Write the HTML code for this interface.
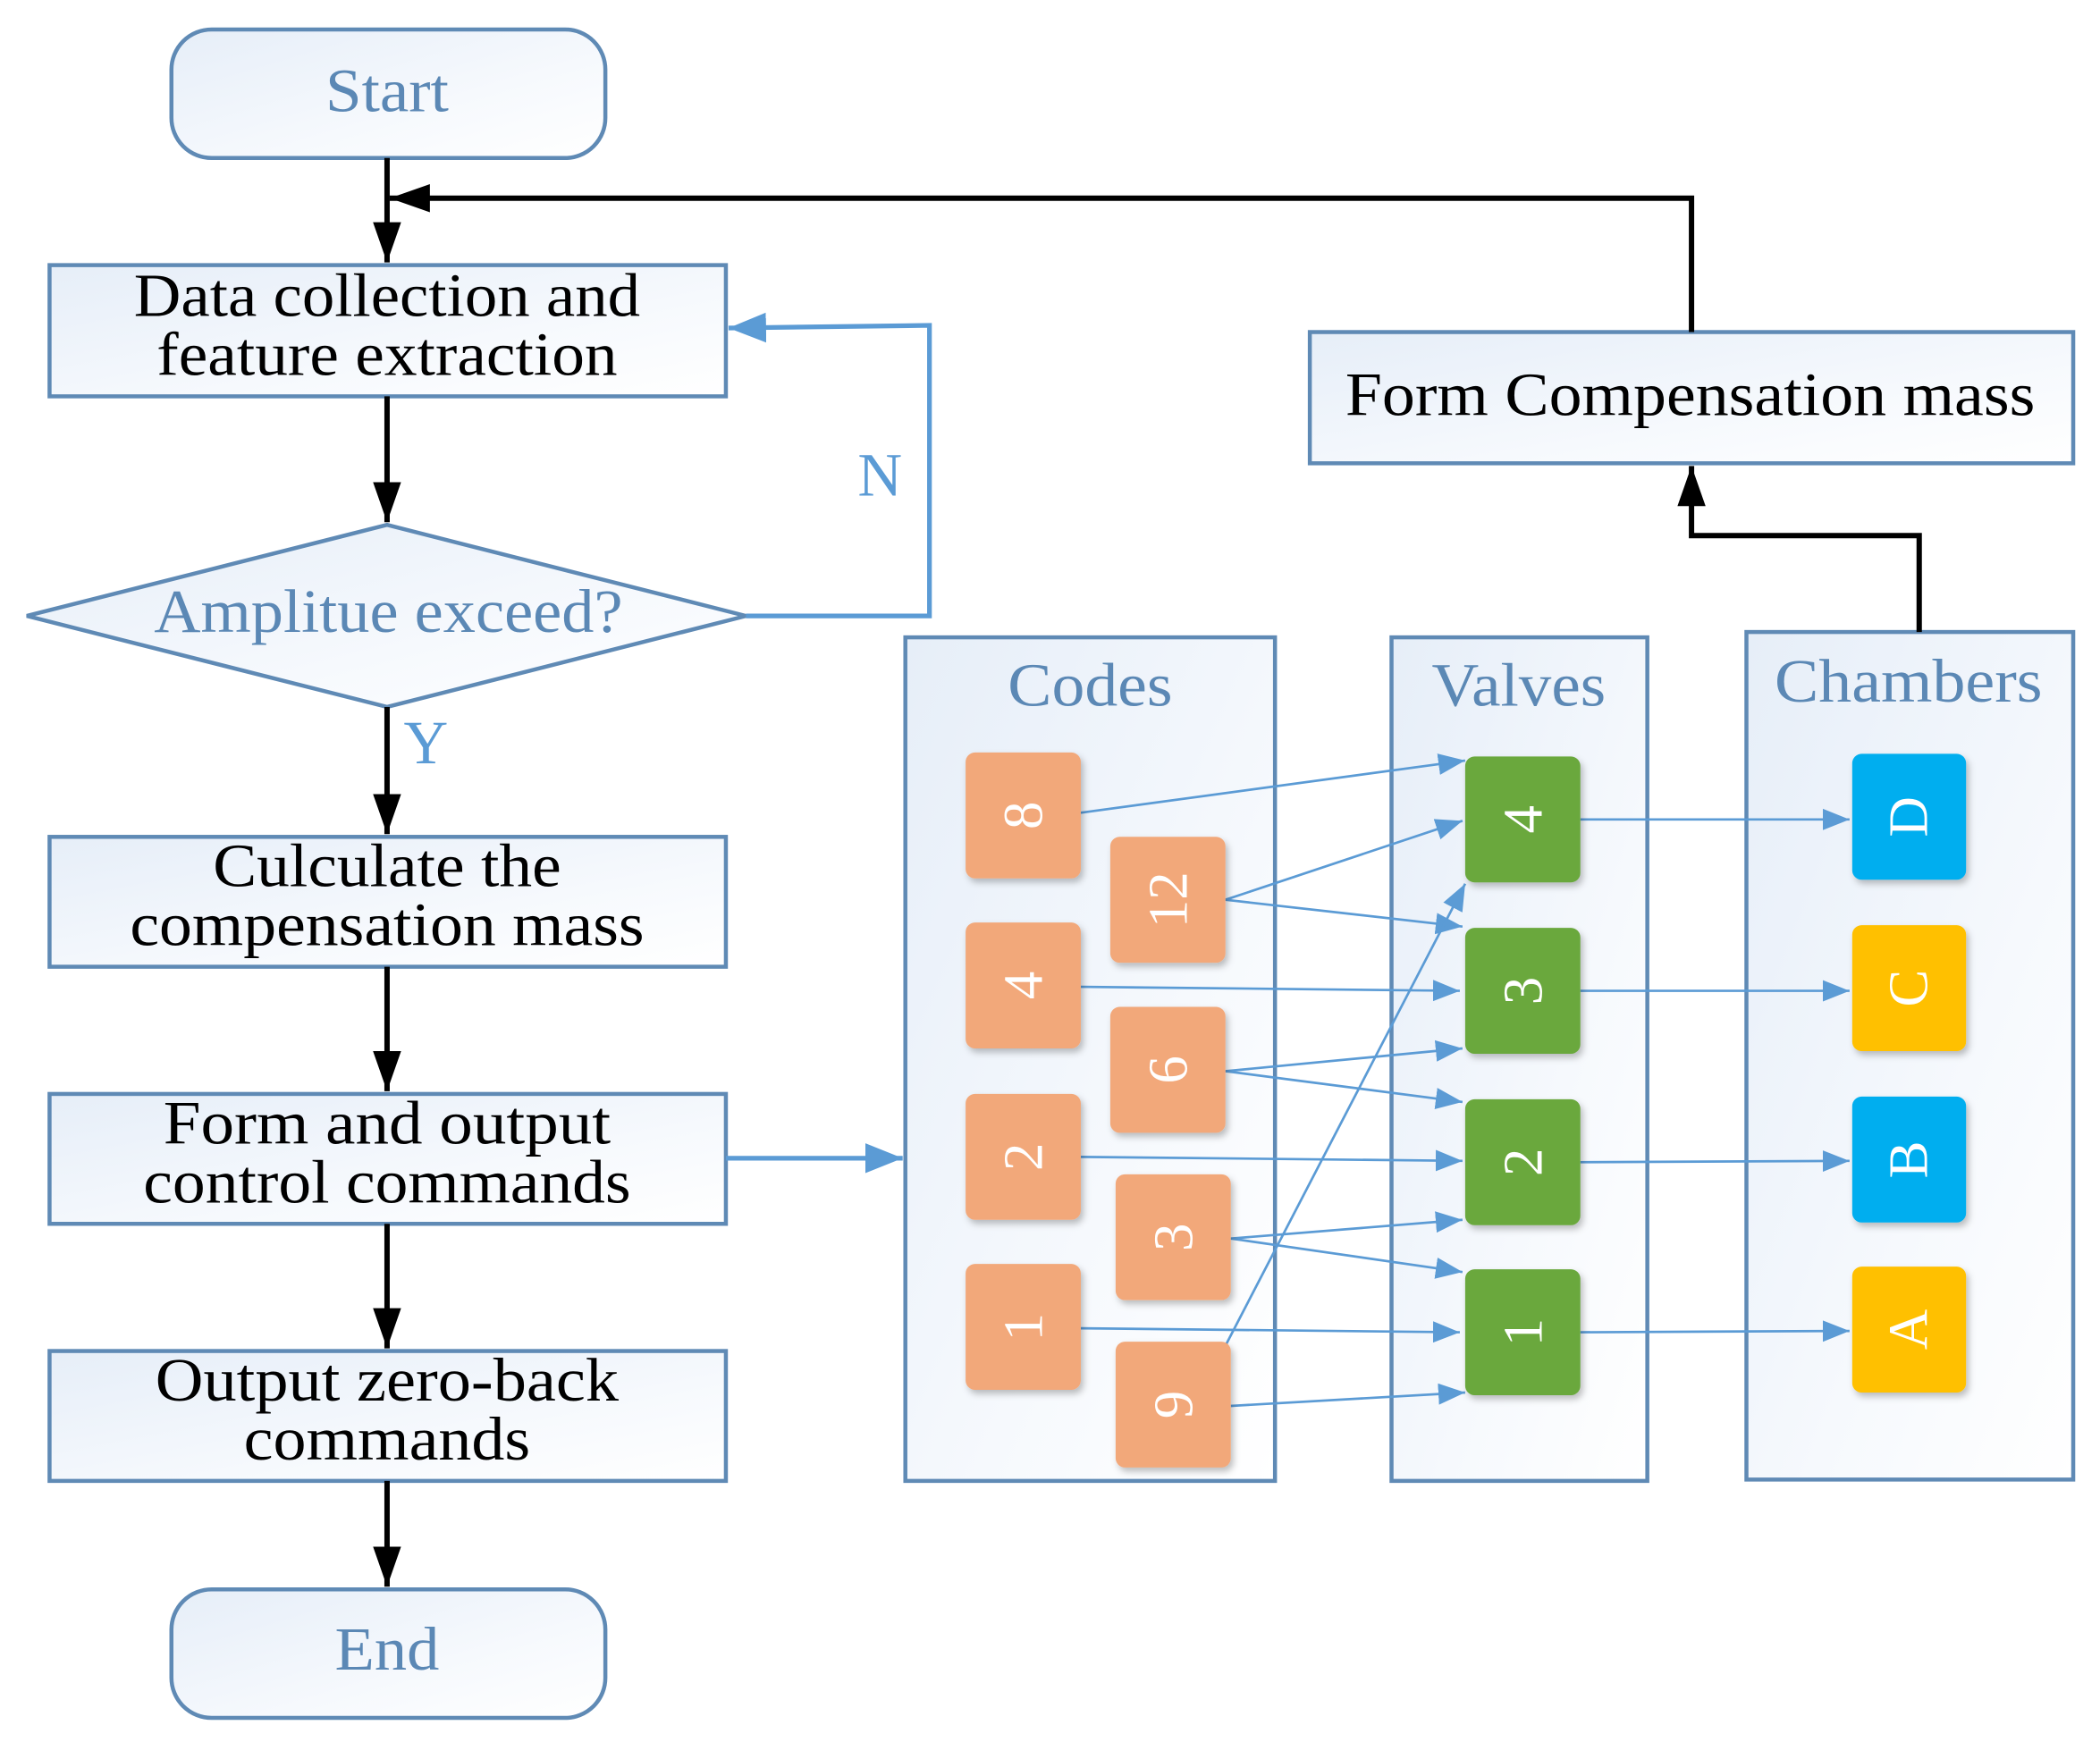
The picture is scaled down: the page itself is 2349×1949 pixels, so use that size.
<!DOCTYPE html>
<html><head><meta charset="utf-8"><style>
html,body{margin:0;padding:0;background:#fff}
svg{display:block}
text{font-family:"Liberation Serif",serif}
</style></head><body>
<svg width="2349" height="1949" viewBox="0 0 1568 1301" preserveAspectRatio="none" xmlns="http://www.w3.org/2000/svg">
<defs>
<linearGradient id="g" x1="0" y1="0" x2="1" y2="1">
<stop offset="0" stop-color="#e6eef8"/><stop offset="0.6" stop-color="#f6f9fd"/><stop offset="1" stop-color="#ffffff"/>
</linearGradient>
<marker id="ak" viewBox="0 0 10 10" refX="10" refY="5" markerWidth="30" markerHeight="30" orient="auto" markerUnits="userSpaceOnUse"><path d="M0,1.5L10,5L0,8.5z" fill="#000"/></marker>
<marker id="au" viewBox="0 0 10 10" refX="10" refY="5" markerWidth="28" markerHeight="28" orient="auto" markerUnits="userSpaceOnUse"><path d="M0,1L10,5L0,9z" fill="#5b9bd5"/></marker>
<marker id="as" viewBox="0 0 10 10" refX="10" refY="5" markerWidth="20" markerHeight="20" orient="auto" markerUnits="userSpaceOnUse"><path d="M0,1L10,5L0,9z" fill="#5b9bd5"/></marker>
<filter id="sh" x="-20%" y="-20%" width="150%" height="150%"><feDropShadow dx="2" dy="3" stdDeviation="2.5" flood-color="#000" flood-opacity="0.25"/></filter>
</defs>

<g stroke="#5f8ab5" stroke-width="3" fill="url(#g)">
<rect x="128" y="22" width="324" height="96" rx="30"/>
<rect x="37" y="198" width="505" height="98"/>
<polygon points="20,460 289,392 557,460 289,528"/>
<rect x="37" y="625" width="505" height="97"/>
<rect x="37" y="817" width="505" height="97"/>
<rect x="37" y="1009" width="505" height="97"/>
<rect x="128" y="1187" width="324" height="96" rx="30"/>
<rect x="978" y="248" width="570" height="98"/>
<rect x="676" y="476" width="276" height="630"/>
<rect x="1039" y="476" width="191" height="630"/>
<rect x="1304" y="472" width="244" height="633"/>
</g>

<g font-size="46" text-anchor="middle" lengthAdjust="spacingAndGlyphs">
<text x="289" y="83" fill="#5b88b5" textLength="92" lengthAdjust="spacingAndGlyphs">Start</text>
<text x="289" y="236" fill="#000" textLength="378" lengthAdjust="spacingAndGlyphs">Data collection and</text>
<text x="289" y="280" fill="#000" textLength="344" lengthAdjust="spacingAndGlyphs">feature extraction</text>
<text x="290" y="472" fill="#5b88b5" textLength="350" lengthAdjust="spacingAndGlyphs">Amplitue exceed?</text>
<text x="289" y="662" fill="#000" textLength="260" lengthAdjust="spacingAndGlyphs">Culculate the</text>
<text x="289" y="706" fill="#000" textLength="384" lengthAdjust="spacingAndGlyphs">compensation mass</text>
<text x="289" y="854" fill="#000" textLength="334" lengthAdjust="spacingAndGlyphs">Form and output</text>
<text x="289" y="898" fill="#000" textLength="364" lengthAdjust="spacingAndGlyphs">control commands</text>
<text x="289" y="1046" fill="#000" textLength="346" lengthAdjust="spacingAndGlyphs">Output zero-back</text>
<text x="289" y="1090" fill="#000" textLength="214" lengthAdjust="spacingAndGlyphs">commands</text>
<text x="289" y="1247" fill="#5b88b5" textLength="78" lengthAdjust="spacingAndGlyphs">End</text>
<text x="1262" y="310" fill="#000" textLength="515" lengthAdjust="spacingAndGlyphs">Form Compensation mass</text>
<text x="814" y="527" fill="#5b88b5" textLength="123" lengthAdjust="spacingAndGlyphs">Codes</text>
<text x="1134" y="527" fill="#5b88b5" textLength="130" lengthAdjust="spacingAndGlyphs">Valves</text>
<text x="1425" y="524" fill="#5b88b5" textLength="200" lengthAdjust="spacingAndGlyphs">Chambers</text>
<text x="657" y="370" fill="#5b9bd5">N</text>
<text x="318" y="570" fill="#5b9bd5">Y</text>
</g>

<g stroke="#000" stroke-width="4" fill="none">
<line x1="289" y1="118" x2="289" y2="196" marker-end="url(#ak)"/>
<line x1="289" y1="296" x2="289" y2="390" marker-end="url(#ak)"/>
<line x1="289" y1="528" x2="289" y2="623" marker-end="url(#ak)"/>
<line x1="289" y1="722" x2="289" y2="815" marker-end="url(#ak)"/>
<line x1="289" y1="914" x2="289" y2="1007" marker-end="url(#ak)"/>
<line x1="289" y1="1106" x2="289" y2="1185" marker-end="url(#ak)"/>
<polyline points="1263,248 1263,148 291,148" marker-end="url(#ak)"/>
<polyline points="1433,472 1433,400 1263,400 1263,348" marker-end="url(#ak)"/>
</g>
<g stroke="#5b9bd5" stroke-width="3.5" fill="none">
<polyline points="557,460 694,460 694,243 544,245" marker-end="url(#au)"/>
<line x1="542" y1="865" x2="674" y2="865" marker-end="url(#au)"/>
</g>

<g stroke="#5b9bd5" stroke-width="1.8" fill="none">
<line x1="807" y1="607" x2="1094" y2="568" marker-end="url(#as)"/>
<line x1="915" y1="672" x2="1092" y2="613" marker-end="url(#as)"/>
<line x1="915" y1="672" x2="1092" y2="692" marker-end="url(#as)"/>
<line x1="807" y1="737" x2="1090" y2="740" marker-end="url(#as)"/>
<line x1="915" y1="800" x2="1092" y2="783" marker-end="url(#as)"/>
<line x1="915" y1="800" x2="1092" y2="823" marker-end="url(#as)"/>
<line x1="807" y1="864" x2="1092" y2="867" marker-end="url(#as)"/>
<line x1="919" y1="925" x2="1092" y2="911" marker-end="url(#as)"/>
<line x1="919" y1="925" x2="1092" y2="950" marker-end="url(#as)"/>
<line x1="807" y1="992" x2="1090" y2="995" marker-end="url(#as)"/>
<line x1="915" y1="1005" x2="1094" y2="660" marker-end="url(#as)"/>
<line x1="919" y1="1050" x2="1094" y2="1040" marker-end="url(#as)"/>
<line x1="1180" y1="612" x2="1381" y2="612" marker-end="url(#as)"/>
<line x1="1180" y1="740" x2="1381" y2="740" marker-end="url(#as)"/>
<line x1="1180" y1="868" x2="1381" y2="867" marker-end="url(#as)"/>
<line x1="1180" y1="995" x2="1381" y2="994" marker-end="url(#as)"/>
</g>

<g filter="url(#sh)">
<g fill="#f2a87a">
<rect x="721" y="562" width="86" height="94" rx="7"/>
<rect x="721" y="689" width="86" height="94" rx="7"/>
<rect x="721" y="817" width="86" height="94" rx="7"/>
<rect x="721" y="944" width="86" height="94" rx="7"/>
<rect x="829" y="625" width="86" height="94" rx="7"/>
<rect x="829" y="752" width="86" height="94" rx="7"/>
<rect x="833" y="877" width="86" height="94" rx="7"/>
<rect x="833" y="1002" width="86" height="94" rx="7"/>
</g>
<g fill="#6aa83e">
<rect x="1094" y="565" width="86" height="94" rx="7"/>
<rect x="1094" y="693" width="86" height="94" rx="7"/>
<rect x="1094" y="821" width="86" height="94" rx="7"/>
<rect x="1094" y="948" width="86" height="94" rx="7"/>
</g>
<rect x="1383" y="563" width="85" height="94" rx="7" fill="#00aeef"/>
<rect x="1383" y="691" width="85" height="94" rx="7" fill="#ffc000"/>
<rect x="1383" y="819" width="85" height="94" rx="7" fill="#00aeef"/>
<rect x="1383" y="946" width="85" height="94" rx="7" fill="#ffc000"/>
</g>

<g font-size="42" fill="#fff" text-anchor="middle">
<text transform="translate(778,609) rotate(-90)">8</text>
<text transform="translate(778,736) rotate(-90)">4</text>
<text transform="translate(778,864) rotate(-90)">2</text>
<text transform="translate(778,991) rotate(-90)">1</text>
<text transform="translate(886,672) rotate(-90)">12</text>
<text transform="translate(886,799) rotate(-90)">6</text>
<text transform="translate(890,924) rotate(-90)">3</text>
<text transform="translate(890,1049) rotate(-90)">9</text>
<text transform="translate(1151,612) rotate(-90)">4</text>
<text transform="translate(1151,740) rotate(-90)">3</text>
<text transform="translate(1151,868) rotate(-90)">2</text>
<text transform="translate(1151,995) rotate(-90)">1</text>
<text transform="translate(1439,610) rotate(-90)">D</text>
<text transform="translate(1439,738) rotate(-90)">C</text>
<text transform="translate(1439,866) rotate(-90)">B</text>
<text transform="translate(1439,993) rotate(-90)">A</text>
</g>
</svg>
</body></html>
